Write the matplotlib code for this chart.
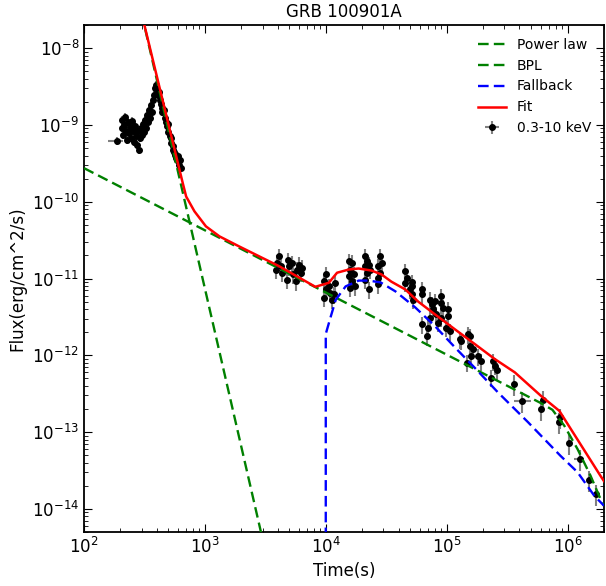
import matplotlib
matplotlib.use('Agg')
import matplotlib.pyplot as plt
import numpy as np

# --- XRT light curve (0.3-10 keV) ---
t_early = [205, 205, 209, 213, 217, 222, 226, 230, 235, 239, 244, 248, 253, 258, 263,
           268, 273, 278, 284, 289, 295, 300, 306, 312, 318, 324, 330, 336, 343, 349,
           356, 363, 370, 377, 384, 391, 399, 406, 414, 422, 430, 438, 446, 455, 464,
           473, 482, 491, 500, 510, 520, 529, 540, 550, 560, 571, 582, 593, 605, 616,
           628, 640]
F_early = [11.6, 9.1, 7.4, 10.0, 12.7, 8.4, 6.4, 10.9, 7.9, 9.4, 6.8, 11.2, 8.4, 6.0, 9.7,
           7.2, 5.5, 8.4, 4.7, 6.8, 9.1, 7.4, 10.3, 8.1, 11.6, 9.1, 13.5, 10.9, 15.6, 12.3,
           18.2, 14.7, 21.1, 24.5, 30.2, 33.0, 28.4, 24.5, 26.8, 21.1, 18.7, 16.6, 14.7, 15.6, 12.3,
           10.9, 9.7, 10.3, 8.1, 7.2, 6.8, 5.8, 5.3, 4.7, 4.45, 4.07, 3.72, 3.50, 3.95, 3.01,
           3.50, 2.75]  # units of 1e-10

t_first = [188]
F_first = [6.2e-10]
xlo_first = [30]
xhi_first = [21]

t_mid = [4100, 3975, 3855, 4236, 4367, 4868, 4960, 4750, 5280, 5380, 5630, 5810, 6000, 6195, 6385,
         9950, 9640, 9950, 9640, 1.06e4, 1.09e4, 1.13e4, 1.20e4, 1.16e4,
         1.64e4, 1.60e4, 1.70e4, 1.55e4, 1.64e4, 1.75e4, 1.60e4, 1.55e4, 2.12e4, 2.19e4,
         2.12e4, 2.26e4, 2.33e4, 2.19e4, 2.12e4, 2.26e4, 2.82e4, 2.90e4, 2.73e4, 2.82e4,
         2.73e4, 2.73e4, 4.53e4, 4.67e4, 4.53e4, 4.98e4, 5.13e4, 5.30e4, 5.13e4, 5.13e4,
         6.29e4, 6.29e4, 6.21e4, 6.82e4, 7.28e4, 7.50e4, 7.74e4, 7.28e4, 7.05e4, 8.0e4,
         8.24e4, 8.51e4, 9.06e4, 9.06e4, 9.35e4, 9.06e4, 1.03e5, 9.96e4, 1.03e5, 1.06e5,
         1.28e5, 1.32e5, 1.50e5, 1.55e5, 1.55e5, 1.65e5, 1.60e5, 1.46e5, 1.82e5, 1.93e5,
         2.41e5, 2.49e5, 2.60e5, 2.34e5]
F_mid = [1.95e-11, 1.60e-11, 1.31e-11, 1.45e-11, 1.19e-11, 1.73e-11, 1.45e-11, 9.7e-12, 1.57e-11,
         1.13e-11, 9.2e-12, 1.31e-11, 1.52e-11, 1.19e-11, 1.38e-11,
         1.13e-11, 9.2e-12, 7.2e-12, 5.6e-12, 7.9e-12, 6.5e-12, 5.3e-12, 8.8e-12, 6.2e-12,
         1.60e-11, 1.31e-11, 1.13e-11, 1.07e-11, 9.2e-12, 7.9e-12, 7.57e-12, 1.68e-11, 1.95e-11,
         1.68e-11, 1.45e-11, 1.52e-11, 1.31e-11, 1.19e-11, 9.7e-12, 7.2e-12, 1.95e-11, 1.60e-11,
         1.45e-11, 1.19e-11, 1.02e-11, 8.36e-12, 1.25e-11, 1.02e-11, 8.8e-12, 7.2e-12, 6.2e-12,
         5.3e-12, 8.95e-12, 7.9e-12,
         7.2e-12, 6.2e-12, 2.53e-12, 1.78e-12, 5.3e-12, 4.59e-12, 3.96e-12, 3.09e-12, 2.29e-12,
         5.07e-12, 3.41e-12, 2.66e-12, 5.89e-12, 4.83e-12, 4.16e-12, 3.09e-12, 3.96e-12, 2.29e-12,
         3.24e-12, 2.07e-12, 1.62e-12, 1.54e-12, 1.88e-12, 1.32e-12, 1.78e-12, 1.20e-12, 9.8e-13,
         8.0e-13, 9.8e-13, 8.4e-13, 8.4e-13, 7.3e-13, 6.4e-13, 5.1e-13]

t_late = [3.60e5, 4.21e5, 6.22e5, 6.03e5, 8.71e5, 8.54e5, 1.03e6, 1.27e6, 1.51e6, 1.73e6]
F_late = [4.2e-13, 2.55e-13, 2.6e-13, 1.99e-13, 1.55e-13, 1.36e-13, 7.2e-14, 4.5e-14, 2.4e-14, 1.57e-14]
xlo_late = [1.0e4, 5.7e4, 1.5e4, 1.5e4, 7.0e4, 2.0e4, 2.5e4, 1.3e5, 3.5e4, 4.0e4]
xhi_late = [1.0e4, 7.9e4, 1.5e4, 1.5e4, 7.0e4, 2.0e4, 2.5e4, 1.0e5, 3.5e4, 4.0e4]

# relative error sizes per segment
rel_y = {'early': 0.12, 'mid': 0.25, 'late': 0.30}
rel_x = {'early': 0.02, 'mid': 0.03}

# --- model components ---
t_pl = [300, 3200]
F_pl = [2.8e-8, 2.6e-15]

t_bpl = [100, 1e3, 1e4, 1e5, 4e5, 6e5, 7.5e5, 9.4e5, 1.21e6, 1.55e6, 1.82e6, 2.0e6]
F_bpl = [2.74e-10, 4.25e-11, 6.58e-12, 1.02e-12, 3.32e-13, 2.39e-13, 1.95e-13, 1.21e-13,
         6.0e-14, 2.7e-14, 1.49e-14, 1.1e-14]

t_fb = [1.0e4, 1.0e4, 1.1e4, 1.21e4, 1.46e4, 1.87e4, 2.26e4, 2.84e4, 3.77e4, 5.5e4, 8.0e4,
        1.17e5, 1.75e5, 2.65e5, 4.7e5, 8.75e5, 1.21e6, 1.66e6, 2.0e6]
F_fb = [1e-15, 1.9e-12, 3.2e-12, 5.3e-12, 7.9e-12, 9.4e-12, 9.4e-12, 8.9e-12, 6.8e-12, 4.2e-12,
        2.4e-12, 1.27e-12, 6.6e-13, 3.3e-13, 1.35e-13, 4.9e-14, 3.0e-14, 1.49e-14, 1.1e-14]

t_fit = [300, 617, 656, 700, 820, 1020, 1320, 1920, 4100, 8200, 1.06e4, 1.24e4, 1.55e4, 1.87e4,
         2.39e4, 2.89e4, 3.49e4, 4.55e4, 5.82e4, 8.03e4, 1.17e5, 1.72e5, 2.51e5, 3.66e5,
         6.03e5, 8.55e5, 1.87e6, 2.0e6]
F_fit = [2.8e-8, 2.6e-10, 1.75e-10, 1.17e-10, 7.5e-11, 4.78e-11, 3.54e-11, 2.62e-11, 1.45e-11,
         7.8e-12, 8.8e-12, 1.19e-11, 1.31e-11, 1.35e-11, 1.27e-11, 1.13e-11, 9.1e-12, 7.2e-12,
         5.0e-12, 3.4e-12, 2.18e-12, 1.39e-12, 8.9e-13, 6.0e-13, 2.96e-13, 1.89e-13, 2.7e-14, 2.3e-14]

plt.rcParams['font.size'] = 12
plt.rcParams['xtick.direction'] = 'in'
plt.rcParams['ytick.direction'] = 'in'
plt.rcParams['xtick.top'] = True
plt.rcParams['ytick.right'] = True
plt.rcParams['xtick.major.size'] = 6
plt.rcParams['ytick.major.size'] = 6
plt.rcParams['xtick.minor.size'] = 3
plt.rcParams['ytick.minor.size'] = 3
plt.rcParams['axes.linewidth'] = 1.3

fig = plt.figure(figsize=(6.06, 5.86), dpi=100)
ax = fig.add_axes([0.1386, 0.0922, 0.858, 0.865])

# assemble data with errors
te = np.array(t_early, float)
Fe = np.array(F_early) * 1e-10
tm = np.array(t_mid, float)
Fm = np.array(F_mid)
tl = np.array(t_late)
Fl = np.array(F_late)

t_all = np.concatenate([t_first, te, tm, tl])
F_all = np.concatenate([F_first, Fe, Fm, Fl])
xlo = np.concatenate([xlo_first, te * rel_x['early'], tm * rel_x['mid'], xlo_late])
xhi = np.concatenate([xhi_first, te * rel_x['early'], tm * rel_x['mid'], xhi_late])
yerr = np.concatenate([np.array(F_first) * rel_y['early'], Fe * rel_y['early'],
                       Fm * rel_y['mid'], Fl * rel_y['late']])

ax.errorbar(t_all, F_all, xerr=[xlo, xhi], yerr=yerr, fmt='o', color='black', ms=4,
            ecolor='grey', elinewidth=1.5, capsize=0, label='0.3-10 keV', zorder=2)

dash = (4.5, 2.2)
ax.plot(t_pl, F_pl, '--', dashes=dash, color='green', lw=1.7, label='Power law', zorder=3)
ax.plot(t_bpl, F_bpl, '--', dashes=dash, color='green', lw=1.7, label='BPL', zorder=3)
ax.plot(t_fb, F_fb, '--', dashes=dash, color='blue', lw=1.7, label='Fallback', zorder=3)
ax.plot(t_fit, F_fit, '-', color='red', lw=1.8, label='Fit', zorder=4)

ax.set_xscale('log')
ax.set_yscale('log')
ax.set_xlim(1e2, 2e6)
ax.set_ylim(5e-15, 2e-8)
ax.set_xlabel('Time(s)')
ax.set_ylabel('Flux(erg/cm^2/s)')
ax.set_title('GRB 100901A', fontsize=12)
ax.tick_params(which='both', top=True, right=True)
ax.legend(loc='upper right', frameon=False, fontsize=10, numpoints=1)

fig.savefig('out.png', dpi=100)
